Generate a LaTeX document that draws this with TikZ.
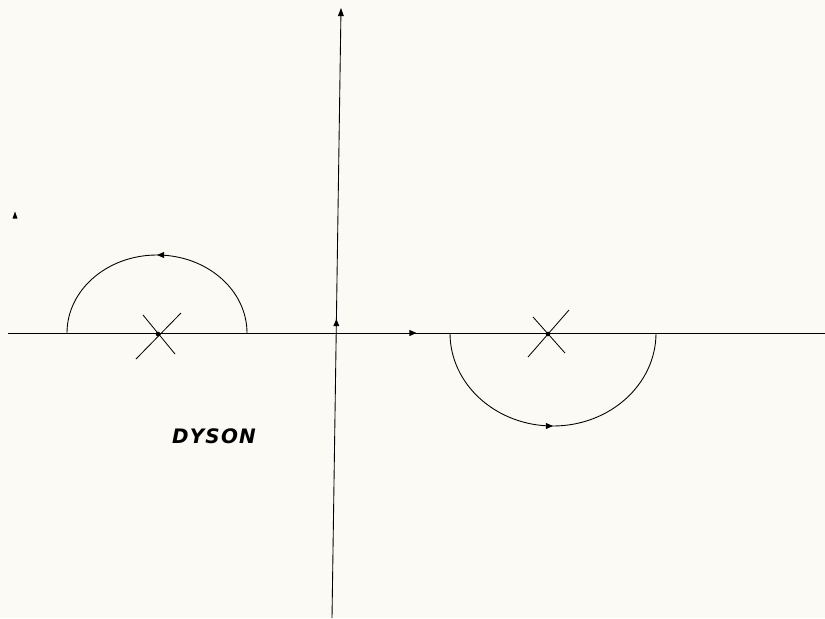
\documentclass[tikz,border=0pt]{standalone}
\usepackage{fontspec}
\newfontfamily\labelfont{DejaVu Sans}
\usepackage{tikz}
\usetikzlibrary{arrows.meta,decorations.markings}
\definecolor{paper}{RGB}{251,250,244}

\begin{document}
\begin{tikzpicture}[
    x=0.03cm, y=-0.03cm,
    axis/.style={line width=1pt},
    contour/.style={line width=0.75pt, postaction={decorate},
        decoration={markings, mark=at position #1 with {\arrow{Triangle[length=6pt, width=5pt]}}}},
    cross/.style={line width=0.7pt},
    pole/.style={circle, fill=black, inner sep=1.4pt},
]
\fill[paper] (0,0) rectangle (825,618);
\useasboundingbox (0,0) rectangle (825,618);

% axes
\coordinate (west) at (8,333);
\coordinate (east) at (825,333);
\coordinate (south) at (332,618);
\coordinate (north) at (341,8);
\draw[axis, contour=0.5] (west) -- (east);
\draw[axis, contour=0.49, -{Triangle[length=7pt, width=5pt]}] (south) -- (north);

% poles
\node[pole] (p1) at (158,334) {};
\node[pole] (p2) at (548,334) {};
\draw[cross] (p1) ++(-15,-19) -- ++(32,39);
\draw[cross] (p1) ++(23,-21) -- ++(-45,46);
\draw[cross] (p2) ++(-15,-17) -- ++(32,36);
\draw[cross] (p2) ++(21,-24) -- ++(-41,47);

% half circles round the poles
\coordinate (a1) at (247,333);
\coordinate (a2) at (450,333);
\draw[contour=0.5] (a1) arc[start angle=0, end angle=-180, x radius=90, y radius=78];
\draw[contour=0.5] (a2) arc[start angle=180, end angle=0, x radius=103, y radius=93];

% stray tip
\fill (12.5,218.5) -- (17.5,218.5) -- (15,211.5) -- cycle;

\node[font=\labelfont\bfseries\itshape\fontsize{17}{19}\selectfont] (dyson) at (214,436) {D\kern1pt Y\kern1pt S\kern1pt O\kern1pt N};

\end{tikzpicture}
\end{document}
